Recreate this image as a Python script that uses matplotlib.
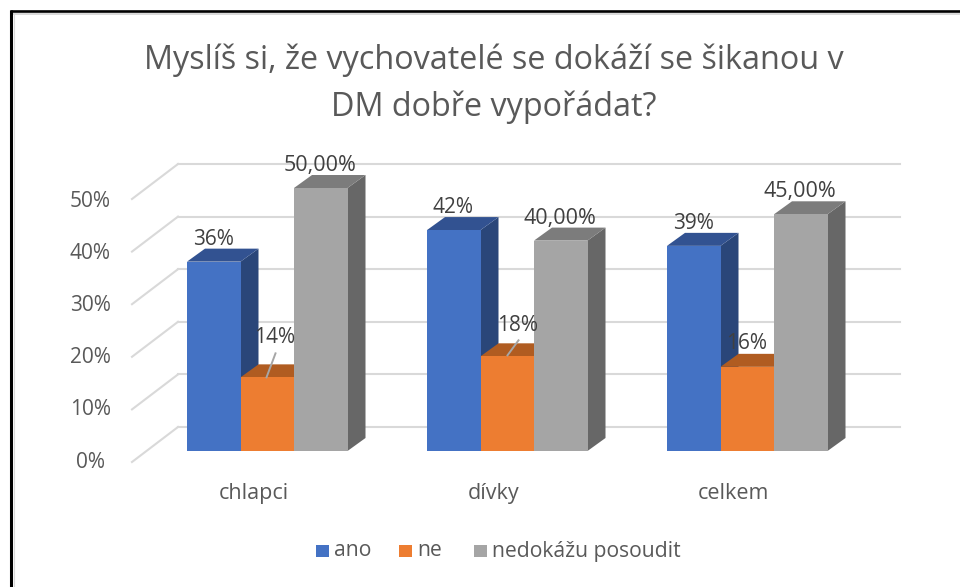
import matplotlib.pyplot as plt
from matplotlib.patches import Polygon, Rectangle

plt.rcParams["font.family"] = ["Open Sans", "DejaVu Sans"]

title = "Myslíš si, že vychovatelé se dokáží se šikanou v\nDM dobře vypořádat?"
categories = ["chlapci", "dívky", "celkem"]
series = ["ano", "ne", "nedokážu posoudit"]
ano = [36, 42, 39]
ne = [14, 18, 16]
nedokazu = [50, 40, 45]
ano_labels = ["36%", "42%", "39%"]
ne_labels = ["14%", "18%", "16%"]
nedokazu_labels = ["50,00%", "40,00%", "45,00%"]
yticks = [0, 10, 20, 30, 40, 50]

W, H = 960, 587
PX_Y = 5.26  # pixels per percent
BASE = 451  # pixel row of the front baseline
X0 = 187  # left edge of the first bar
STEP = 240  # pixels between groups
BAR = 53.5
DX, DY = 18, 13  # 3d depth of a bar
TEXT = "#404040"
LABEL = "#595959"
GRID = "#d9d9d9"
FRONT = ["#4472c4", "#ed7d31", "#a5a5a5"]
TOP = ["#325291", "#b05c21", "#7c7c7c"]
SIDE = ["#2a4679", "#ed7d31", "#676767"]

# placement of the orange labels, pixels from the bar's top left corner
NE_LABEL_DX = [34, 37, 26]
NE_LABEL_DY = [40, 31, 23.5]
NE_LEADER = [((26, 0), (35, 24)), ((27, 1), (38, 16)), None]
CAT_X = [67, 67, 66]

fig = plt.figure(figsize=(W / 100, H / 100), dpi=100)
ax = fig.add_axes([0, 0, 1, 1])
# x in category units, y in percent, both mapped onto the whole figure
ax.set_xlim(-X0 / STEP, (W - X0) / STEP)
ax.set_ylim(-(H - BASE) / PX_Y, BASE / PX_Y)
ax.axis("off")

ux = 1 / STEP
uy = 1 / PX_Y
bw = BAR * ux
dx = DX * ux
dy = DY * uy
left = -X0 * ux
right = (W - X0) * ux
bottom = -(H - BASE) * uy

# frame round the picture
ax.plot([left + 11 * ux] * 2, [bottom, (BASE - 10) * uy], color="black", lw=2.2, zorder=5, solid_capstyle="butt")
ax.plot([left + 9.5 * ux, right], [(BASE - 11) * uy] * 2, color="black", lw=1.9, zorder=5, solid_capstyle="butt")
ax.plot([left + 13.5 * ux, right], [(BASE - 14) * uy] * 2, color=GRID, lw=1.4, zorder=4)
ax.plot([left + 13.5 * ux] * 2, [bottom, (BASE - 14) * uy], color=GRID, lw=0.8, zorder=4)

# gridlines: side wall and back wall
for v in yticks:
    xl = (132 - X0) * ux
    xb = (178 - X0) * ux
    xr = (900 - X0) * ux
    y_front = v - 11 * uy
    y_back = v + 24 * uy
    ax.plot([xl, xb], [y_front, y_back], color=GRID, lw=1.5, zorder=1)
    ax.plot([xb, xr], [y_back, y_back], color=GRID, lw=1.5, zorder=1)
    ax.text((90.5 - X0) * ux, v * 0.992 - 11 * uy, f"{v}%", color=LABEL, fontsize=15, ha="center", va="center")

# bars from the back to the front, left to right
for i, values in enumerate([ano, ne, nedokazu]):
    for c, v in enumerate(values):
        x = c + i * bw
        ax.add_patch(Polygon([(x + bw, 0), (x + bw + dx, dy), (x + bw + dx, v + dy), (x + bw, v)],
                             facecolor=SIDE[i], edgecolor="none", zorder=2 + i))
        ax.add_patch(Polygon([(x, v), (x + dx, v + dy), (x + bw + dx, v + dy), (x + bw, v)],
                             facecolor=TOP[i], edgecolor="none", zorder=2 + i))
        ax.add_patch(Rectangle((x, 0), bw, v, facecolor=FRONT[i], edgecolor="none", zorder=2 + i))

# data labels
for c in range(3):
    ax.text(c + 26 * ux, ano[c] + 22.5 * uy, ano_labels[c], color=TEXT, fontsize=15, ha="center", va="center", zorder=6)
    x = c + bw
    ax.text(x + NE_LABEL_DX[c] * ux, ne[c] + NE_LABEL_DY[c] * uy, ne_labels[c], color=TEXT, fontsize=15,
            ha="center", va="center", zorder=6)
    if NE_LEADER[c]:
        (x1, y1), (x2, y2) = NE_LEADER[c]
        ax.plot([x + x1 * ux, x + x2 * ux], [ne[c] + y1 * uy, ne[c] + y2 * uy], color="#a6a6a6", lw=1.4, zorder=6)
    x = c + 2 * bw
    ax.text(x + 26 * ux, nedokazu[c] + 22.5 * uy, nedokazu_labels[c], color=TEXT, fontsize=15.5,
            ha="center", va="center", zorder=6)

# category labels
for c, name in enumerate(categories):
    ax.text(c + CAT_X[c] * ux, -42.5 * uy, name, color=LABEL, fontsize=15.5, ha="center", va="center")

# legend
legend_x = [316, 399, 474]
for name, color, lx in zip(series, FRONT, legend_x):
    ax.add_patch(Rectangle(((lx - X0) * ux, -106 * uy), 13 * ux, 12 * uy, facecolor=color, edgecolor="none"))
    ax.text((lx + 18 - X0) * ux, -100 * uy, name, color=LABEL, fontsize=15.2, ha="left", va="center")

ax.text((493.5 - X0) * ux, (BASE - 83.5) * uy, title, color=LABEL, fontsize=23.3, ha="center", va="center",
        linespacing=1.51)

fig.savefig("out.png", dpi=100)
plt.close(fig)
